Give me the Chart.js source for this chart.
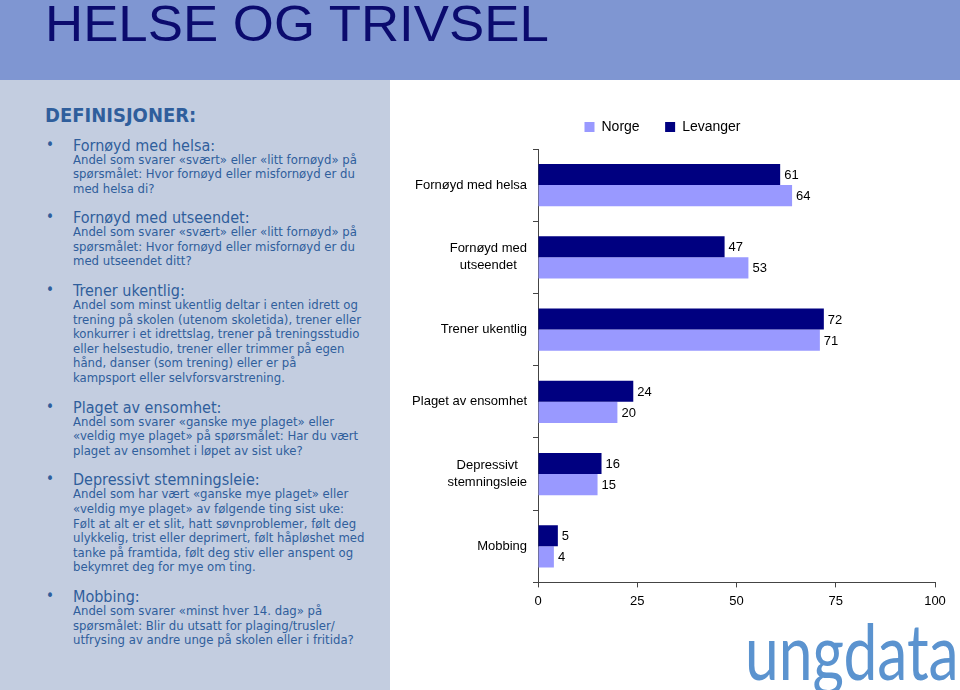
<!DOCTYPE html>
<html>
<head>
<meta charset="utf-8">
<script src="https://cdn.jsdelivr.net/npm/chart.js@4"></script>
<style>
  body { margin: 0; width: 960px; height: 690px; overflow: hidden; background: #fff; position: relative; }
  #top { position: absolute; left: 0; top: 0; width: 960px; height: 80px; background: #7f96d2; }
  #top h1 { margin: 0; position: absolute; left: 45px; top: -1px; font: normal 50px/50px "Liberation Sans", Arial, sans-serif; color: #0b0b6e; white-space: nowrap; transform-origin: 0 0; transform: scaleX(1.056); }
  #left { position: absolute; left: 0; top: 80px; width: 390px; height: 610px; background: #c3cde0; color: #2f5e9c; font-family: "DejaVu Sans Condensed", "DejaVu Sans", sans-serif; }
  #left .def { position: absolute; left: 45px; top: 24px; font-size: 20px; line-height: 22px; font-weight: bold; }
  #list { position: absolute; left: 73px; top: 57.5px; white-space: nowrap; }
  .item { position: relative; }
  .item + .item { margin-top: 14px; }
  .item::before { content: "\2022"; position: absolute; left: -27px; top: 0; font-size: 15px; line-height: 15px; }
  .hd { font-size: 16px; line-height: 15px; }
  .tx { font-size: 13px; line-height: 14.6px; }
  #chartBox { position: absolute; left: 390px; top: 80px; width: 570px; height: 535px; }
  #logo { position: absolute; left: 745px; top: 603px; font: 400 78px Lato, sans-serif; color: #5b93cf; transform-origin: 0 0; transform: scaleX(0.775); white-space: nowrap; }
</style>
</head>
<body>
<div id="top"><h1>HELSE OG TRIVSEL</h1></div>
<div id="left">
  <div class="def">DEFINISJONER:</div>
  <div id="list">
    <div class="item"><div class="hd">Fornøyd med helsa:</div><div class="tx">Andel som svarer «svært» eller «litt fornøyd» på<br>spørsmålet: Hvor fornøyd eller misfornøyd er du<br>med helsa di?</div></div>
    <div class="item"><div class="hd">Fornøyd med utseendet:</div><div class="tx">Andel som svarer «svært» eller «litt fornøyd» på<br>spørsmålet: Hvor fornøyd eller misfornøyd er du<br>med utseendet ditt?</div></div>
    <div class="item"><div class="hd">Trener ukentlig:</div><div class="tx">Andel som minst ukentlig deltar i enten idrett og<br>trening på skolen (utenom skoletida), trener eller<br>konkurrer i et idrettslag, trener på treningsstudio<br>eller helsestudio, trener eller trimmer på egen<br>hånd, danser (som trening) eller er på<br>kampsport eller selvforsvarstrening.</div></div>
    <div class="item"><div class="hd">Plaget av ensomhet:</div><div class="tx">Andel som svarer «ganske mye plaget» eller<br>«veldig mye plaget» på spørsmålet: Har du vært<br>plaget av ensomhet i løpet av sist uke?</div></div>
    <div class="item"><div class="hd">Depressivt stemningsleie:</div><div class="tx">Andel som har vært «ganske mye plaget» eller<br>«veldig mye plaget» av følgende ting sist uke:<br>Følt at alt er et slit, hatt søvnproblemer, følt deg<br>ulykkelig, trist eller deprimert, følt håpløshet med<br>tanke på framtida, følt deg stiv eller anspent og<br>bekymret deg for mye om ting.</div></div>
    <div class="item"><div class="hd">Mobbing:</div><div class="tx">Andel som svarer «minst hver 14. dag» på<br>spørsmålet: Blir du utsatt for plaging/trusler/<br>utfrysing av andre unge på skolen eller i fritida?</div></div>
  </div>
</div>
<div id="chartBox"><canvas id="chart" width="570" height="535"></canvas></div>
<div id="logo">ungdata</div>

<script>
// Categories (multi-line labels as arrays)
const categories = [
  ['Fornøyd med helsa'],
  ['Fornøyd med', 'utseendet'],
  ['Trener ukentlig'],
  ['Plaget av ensomhet'],
  ['Depressivt', 'stemningsleie'],
  ['Mobbing']
];
const levanger = [61, 47, 72, 24, 16, 5];
const norge = [64, 53, 71, 20, 15, 4];
const xTicks = [0, 25, 50, 75, 100];

const labelFont = '13px "Liberation Sans", Arial, sans-serif';

// Extra space between legend and plot area
const legendGap = {
  id: 'legendGap',
  beforeInit(chart) {
    const origFit = chart.legend.fit;
    chart.legend.fit = function() {
      origFit.call(this);
      this.height += 5;
    };
  }
};

// Draws the category labels: block right-aligned to the axis, lines centred
const categoryLabels = {
  id: 'categoryLabels',
  afterDraw(chart) {
    const ctx = chart.ctx;
    const yScale = chart.scales.y;
    const right = chart.scales.x.left - 11;
    ctx.save();
    ctx.font = labelFont;
    ctx.fillStyle = '#000';
    ctx.textAlign = 'center';
    ctx.textBaseline = 'middle';
    categories.forEach((lines, i) => {
      const cy = yScale.getPixelForValue(i);
      const w = Math.max(...lines.map(l => ctx.measureText(l).width));
      const cx = right - w / 2;
      lines.forEach((ln, j) => {
        ctx.fillText(ln, cx, cy + (j - (lines.length - 1) / 2) * 17);
      });
    });
    ctx.restore();
  }
};

// Value labels at the end of each bar
const valueLabels = {
  id: 'valueLabels',
  afterDatasetsDraw(chart) {
    const ctx = chart.ctx;
    ctx.save();
    ctx.font = labelFont;
    ctx.fillStyle = '#000';
    ctx.textAlign = 'left';
    ctx.textBaseline = 'middle';
    chart.data.datasets.forEach((ds, di) => {
      chart.getDatasetMeta(di).data.forEach((bar, i) => {
        ctx.fillText(ds.data[i], bar.x + 4, bar.y + 1);
      });
    });
    ctx.restore();
  }
};

new Chart(document.getElementById('chart'), {
  type: 'bar',
  data: {
    labels: categories,
    datasets: [
      { label: 'Levanger', data: levanger, backgroundColor: '#000080' },
      { label: 'Norge', data: norge, backgroundColor: '#9999ff' }
    ]
  },
  options: {
    indexAxis: 'y',
    responsive: false,
    animation: false,
    devicePixelRatio: 1,
    layout: { padding: { top: 14.5, right: 25, bottom: 0, left: 0 } },
    datasets: { bar: { categoryPercentage: 0.585, barPercentage: 1 } },
    scales: {
      x: {
        min: 0, max: 100,
        afterBuildTicks: scale => { scale.ticks = xTicks.map(v => ({ value: v })); },
        ticks: { color: '#000', font: { family: '"Liberation Sans", Arial, sans-serif', size: 13 }, padding: 6 },
        grid: { drawOnChartArea: false, drawTicks: true, tickLength: 5, color: '#444' },
        border: { color: '#444' }
      },
      y: {
        ticks: { display: false },
        afterFit: scale => { scale.width = 148; },
        grid: { offset: true, drawOnChartArea: false, drawTicks: true, tickLength: 5, color: '#444' },
        border: { color: '#444' }
      }
    },
    plugins: {
      legend: {
        position: 'top',
        reverse: true,
        labels: {
          boxWidth: 10, boxHeight: 10, padding: 25.5,
          color: '#000',
          font: { family: '"Liberation Sans", Arial, sans-serif', size: 14 }
        }
      },
      tooltip: { enabled: false }
    }
  },
  plugins: [legendGap, categoryLabels, valueLabels]
});
</script>
</body>
</html>
